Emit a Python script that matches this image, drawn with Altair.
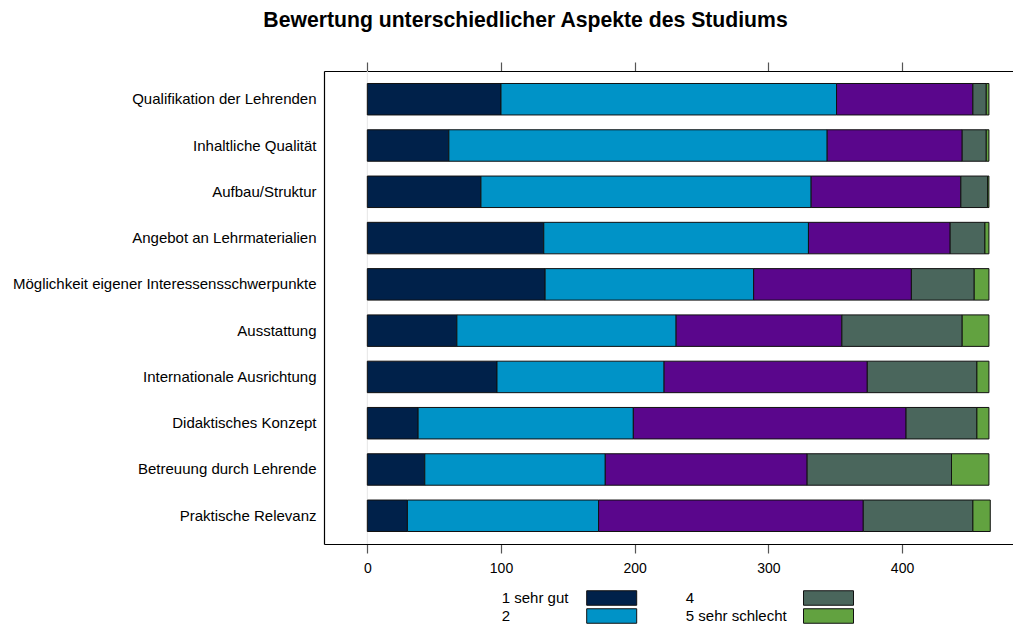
import altair as alt
import pandas as pd

aspects = [
    "Qualifikation der Lehrenden",
    "Inhaltliche Qualität",
    "Aufbau/Struktur",
    "Angebot an Lehrmaterialien",
    "Möglichkeit eigener Interessensschwerpunkte",
    "Ausstattung",
    "Internationale Ausrichtung",
    "Didaktisches Konzept",
    "Betreuung durch Lehrende",
    "Praktische Relevanz",
]
grades = ["1 sehr gut", "2", "3", "4", "5 sehr schlecht"]
v1 = [100, 61, 85, 132, 133, 67, 97, 38, 43, 30]
v2 = [251, 283, 247, 198, 156, 164, 125, 161, 135, 143]
v3 = [102, 101, 112, 106, 118, 124, 152, 204, 151, 198]
v4 = [10, 18, 20, 26, 47, 90, 82, 53, 108, 82]
v5 = [2, 2, 1, 3, 11, 20, 9, 9, 28, 13]
colors = ["#00214A", "#0093C7", "#5A068C", "#4A665C", "#62A240"]
ticks = [0, 100, 200, 300, 400]

rows = []
for series, g in zip([v1, v2, v3, v4, v5], grades):
    for a, v in zip(aspects, series):
        rows.append({"Aspekt": a, "Note": g, "Anzahl": v, "ord": grades.index(g)})
df = pd.DataFrame(rows)

FONT = "Liberation Sans"
xscale = alt.Scale(domain=[-32.4, 483], nice=False, zero=False)


def make_legend(x, offset):
    return alt.Legend(
        title=None,
        orient="none",
        legendX=x,
        legendY=519,
        direction="vertical",
        symbolType="M-3.4483,-1H3.4483V1H-3.4483Z",
        symbolSize=210.25,
        symbolStrokeColor="#111111",
        symbolStrokeWidth=1,
        symbolOpacity=1,
        labelOffset={"expr": str(offset)},
        labelFontSize=15,
        labelFont=FONT,
        labelColor="#000000",
        rowPadding={"expr": "-7.3"},
        padding=0,
    )


y_axis = alt.Axis(
    ticks=False, domain=True, domainColor="#000000", domainWidth=1.2,
    labelFontSize=15, labelColor="#000000", labelPadding=8, labelLimit=400,
    labelFont=FONT,
)
y_scale = alt.Scale(paddingInner=0.32, paddingOuter=0.27)

base = alt.Chart(df).transform_stack(
    stack="Anzahl",
    as_=["x0", "x1"],
    groupby=["Aspekt"],
    sort=[alt.SortField("ord", order="ascending")],
)

zero = alt.Chart(pd.DataFrame({"x": [0]})).mark_rule(color="#e6e6e6", strokeWidth=1).encode(
    x=alt.X("x:Q", scale=xscale, axis=None)
)

bars_a = base.transform_filter("datum.ord <= 2").mark_bar(
    stroke="#111111", strokeWidth=1, opacity=1
).encode(
    y=alt.Y("Aspekt:N", sort=aspects, title=None, scale=y_scale, axis=y_axis),
    x=alt.X(
        "x0:Q",
        scale=xscale,
        title=None,
        axis=alt.Axis(
            orient="bottom", values=ticks, grid=False, domainColor="#000000", domainWidth=1.2,
            tickColor="#555555", tickSize=9, tickWidth=1.2, labelFontSize=14,
            labelColor="#000000", labelPadding=8, labelFont=FONT,
        ),
    ),
    x2="x1:Q",
    color=alt.Color(
        "Note:N",
        scale=alt.Scale(domain=grades[:3], range=colors[:3]),
        legend=make_legend(279.7, -118),
    ),
)

bars_b = base.transform_filter("datum.ord >= 3").mark_bar(
    stroke="#111111", strokeWidth=1, opacity=1
).encode(
    y=alt.Y("Aspekt:N", sort=aspects, title=None, scale=y_scale, axis=y_axis),
    x=alt.X("x0:Q", scale=xscale, title=None, axis=None),
    x2="x1:Q",
    color=alt.Color(
        "Note:N",
        scale=alt.Scale(domain=grades[3:], range=colors[3:]),
        legend=make_legend(496.5, -150.7),
    ),
)

top_axis = alt.Chart(pd.DataFrame({"x": [0]})).mark_rule(opacity=0).encode(
    x=alt.X(
        "x:Q",
        scale=xscale,
        axis=alt.Axis(
            orient="top", values=ticks, labels=False, grid=False, title=None,
            domainColor="#000000", domainWidth=1.2, tickColor="#555555",
            tickSize=9, tickWidth=1.2,
        ),
    )
)

chart = (
    alt.layer(zero, bars_a, bars_b, top_axis)
    .resolve_axis(x="independent")
    .resolve_scale(color="independent")
    .properties(
        width=689,
        height=473,
        autosize=alt.AutoSizeParams(type="none"),
        padding={"left": 316, "top": 63, "right": 0, "bottom": 80},
        title=alt.TitleParams(
            "Bewertung unterschiedlicher Aspekte des Studiums",
            anchor="middle",
            frame="group",
            dx=-143,
            offset=30,
            fontSize=21.2,
            font=FONT,
            fontWeight="bold",
            color="#000000",
        ),
    )
    .configure_view(stroke=None)
    .configure(background="white")
)

chart.save("out.html", embed_options={"renderer": "svg", "actions": False})
